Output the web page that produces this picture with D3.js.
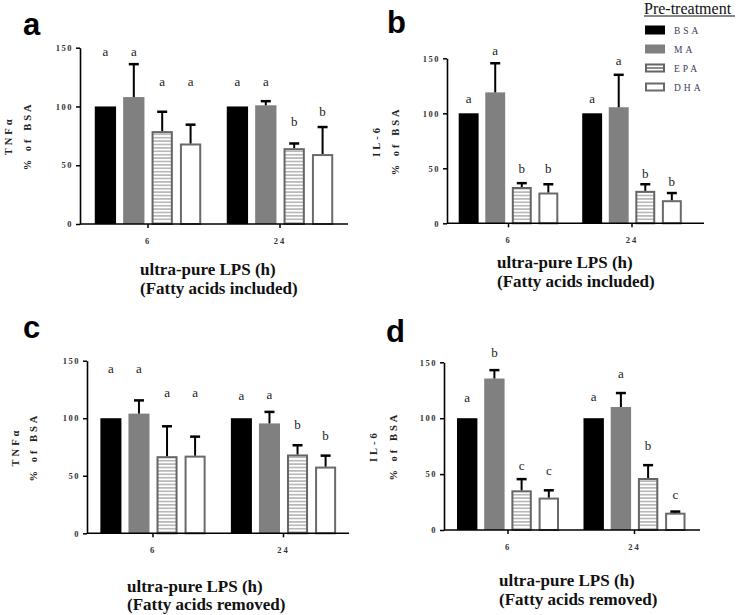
<!DOCTYPE html>
<html><head><meta charset="utf-8">
<script src="https://cdn.jsdelivr.net/npm/d3@7"></script>
<style>body{margin:0;background:#fff} svg{display:block}</style>
</head><body><svg id="chart" width="739" height="615"></svg>
<script>
// ---------- data ----------
const times = ["6", "24"];
const treatments = ["BSA", "MA", "EPA", "DHA"];
const yTicks = [0, 50, 100, 150];
const panelLetters = ["a", "b", "c", "d"];
const cytokines = ["TNFα", "IL-6", "TNFα", "IL-6"];
const yUnit = "% of BSA";
const xTitle = "ultra-pure LPS (h)";
const xSubtitles = ["(Fatty acids included)", "(Fatty acids included)", "(Fatty acids removed)", "(Fatty acids removed)"];
const legendTitle = "Pre-treatment";

// mean (% of BSA): rows = time points, columns = treatments
const meanA = [[100, 108, 79, 68.5], [100, 101, 64.5, 59.5]];
const errA  = [[0, 28, 16.5, 16], [0, 3.5, 4, 23]];
const sigA  = [["a", "a", "a", "a"], ["a", "a", "b", "b"]];
const sigAtA = [[145.5, 145.5, 120, 120], [120, 120, 86, 94.5]];

const meanB = [[100, 119, 33, 28], [100, 105.5, 29.5, 21]];
const errB  = [[0, 26.5, 3.5, 7.5], [0, 29.5, 6, 6.5]];
const sigB  = [["a", "a", "b", "b"], ["a", "a", "b", "b"]];
const sigAtB = [[113, 156, 48.5, 48.5], [113, 147.5, 44.8, 37]];

const meanC = [[100, 104, 67, 67.5], [100, 95.5, 68.5, 58]];
const errC  = [[0, 11.5, 26, 16.5], [0, 10, 8, 9.5]];
const sigC  = [["a", "a", "a", "a"], ["a", "a", "b", "b"]];
const sigAtC = [[142.5, 142.5, 121.6, 121.6], [119.3, 120, 93.5, 84]];

const meanD = [[100, 135.5, 35.5, 29], [100, 110, 46.5, 15.5]];
const errD  = [[0, 7.5, 10, 6.5], [0, 12.5, 11.5, 1]];
const sigD  = [["a", "b", "c", "c"], ["a", "a", "b", "c"]];
const sigAtD = [[117.8, 158, 57.2, 52.2], [118.7, 139.3, 74.5, 30.7]];

const means = [meanA, meanB, meanC, meanD];
const errs = [errA, errB, errC, errD];
const sigs = [sigA, sigB, sigC, sigD];
const sigAts = [sigAtA, sigAtB, sigAtC, sigAtD];

// ---------- layout ----------
const layout = [
  {x0: 80,  yTop: 47.7,  yBot: 224,   band: [82, 346],        axisEnd: 348, letter: [23, 35],   yt: [12, 31],   xt: [140, 275, 294]},
  {x0: 447, yTop: 58.3,  yBot: 223.3, band: [446.75, 693.75], axisEnd: 704, letter: [387, 33],  yt: [380, 399], xt: [497, 268, 287]},
  {x0: 87,  yTop: 360.7, yBot: 533.3, band: [87.75, 348.75],  axisEnd: 349, letter: [23, 338],  yt: [19, 37],   xt: [127, 592, 610]},
  {x0: 444, yTop: 362.3, yBot: 530,   band: [444.75, 697.75], axisEnd: 700, letter: [386, 342], yt: [377, 397], xt: [499, 586, 605]}
];

const SERIF = "'Liberation Serif','Times New Roman',serif";
const SANS = "'Liberation Sans',Arial,sans-serif";

const svg = d3.select("#chart");
const defs = svg.append("defs");
const pat = defs.append("pattern").attr("id", "stripes")
  .attr("patternUnits", "userSpaceOnUse").attr("width", 8).attr("height", 3.4);
pat.append("rect").attr("width", 8).attr("height", 3.4).attr("fill", "#fff");
pat.append("rect").attr("y", 1.2).attr("width", 8).attr("height", 1).attr("fill", "#8a8a8a");

const style = {
  BSA: {fill: "#000", stroke: "none"},
  MA:  {fill: "#808080", stroke: "none"},
  EPA: {fill: "url(#stripes)", stroke: "#656565"},
  DHA: {fill: "#fff", stroke: "#6a6a6a"}
};

layout.forEach((L, p) => {
  const g = svg.append("g");
  const y = d3.scaleLinear().domain([0, 150]).range([L.yBot, L.yTop]);
  const x = d3.scaleBand().domain(times).range(L.band);
  const xi = d3.scaleBand().domain(treatments).range([0, x.bandwidth()])
    .paddingInner(0.25).paddingOuter(0.45);

  // bars
  times.forEach((t, ti) => {
    treatments.forEach((tr, k) => {
      const m = means[p][ti][k];
      const e = errs[p][ti][k];
      const bx = x(t) + xi(tr), bw = xi.bandwidth();
      const cx = bx + bw / 2;
      const s = style[tr];
      const inset = s.stroke === "none" ? 0 : 1;
      g.append("rect")
        .attr("x", bx + inset).attr("y", y(m) + inset)
        .attr("width", bw - 2 * inset).attr("height", y(0) - y(m) - inset)
        .attr("fill", s.fill).attr("stroke", s.stroke).attr("stroke-width", 2);
      if (e > 0) {
        g.append("line").attr("x1", cx).attr("x2", cx)
          .attr("y1", y(m)).attr("y2", y(m + e))
          .attr("stroke", "#000").attr("stroke-width", 2);
        g.append("line").attr("x1", cx - 5).attr("x2", cx + 5)
          .attr("y1", y(m + e)).attr("y2", y(m + e))
          .attr("stroke", "#000").attr("stroke-width", 2.5);
      }
      g.append("text").attr("x", cx).attr("y", y(sigAts[p][ti][k]) + 3.5)
        .attr("text-anchor", "middle")
        .attr("font-family", SERIF).attr("font-size", 13).attr("fill", "#1a1a1a")
        .text(sigs[p][ti][k]);
    });
  });

  // y axis
  const ya = g.append("g").attr("transform", `translate(${L.x0},0)`)
    .call(d3.axisLeft(y).tickValues(yTicks).tickSize(4).tickSizeOuter(0).tickPadding(3));
  ya.select(".domain").attr("stroke", "#000").attr("stroke-width", 1.6);
  ya.selectAll(".tick line").attr("stroke", "#000").attr("stroke-width", 1.5);
  ya.selectAll(".tick text").attr("font-family", SERIF).attr("font-size", 8.5)
    .attr("font-weight", "bold").attr("letter-spacing", "1.5px").attr("fill", "#333");

  // x axis
  g.append("line").attr("x1", L.x0).attr("x2", L.axisEnd)
    .attr("y1", L.yBot).attr("y2", L.yBot)
    .attr("stroke", "#000").attr("stroke-width", 1.6);
  const xa = g.append("g").attr("transform", `translate(0,${L.yBot})`)
    .call(d3.axisBottom(x).tickSize(4).tickSizeOuter(0).tickPadding(10));
  xa.select(".domain").remove();
  xa.selectAll(".tick line").attr("stroke", "#000").attr("stroke-width", 1.5);
  xa.selectAll(".tick text").attr("font-family", SERIF).attr("font-size", 8.5)
    .attr("font-weight", "bold").attr("letter-spacing", "2px").attr("fill", "#333");

  // y title (two lines, rotated)
  const yc = (L.yTop + L.yBot) / 2;
  [cytokines[p], yUnit].forEach((txt, i) => {
    g.append("text").attr("transform", `translate(${L.yt[i]},${yc}) rotate(-90)`)
      .attr("text-anchor", "middle")
      .attr("font-family", SERIF).attr("font-size", 10.5).attr("font-weight", "bold")
      .attr("letter-spacing", "3px").attr("fill", "#222").text(txt);
  });

  // x title
  [xTitle, xSubtitles[p]].forEach((txt, i) => {
    g.append("text").attr("x", L.xt[0]).attr("y", L.xt[1 + i])
      .attr("font-family", SERIF).attr("font-size", 17).attr("font-weight", "bold")
      .attr("fill", "#111").text(txt);
  });

  // panel letter
  g.append("text").attr("x", L.letter[0]).attr("y", L.letter[1])
    .attr("font-family", SANS).attr("font-size", 31).attr("font-weight", "bold")
    .attr("fill", "#000").text(panelLetters[p]);
});

// legend
const lg = svg.append("g");
lg.append("text").attr("x", 644).attr("y", 13.5)
  .attr("font-family", SERIF).attr("font-size", 16).attr("fill", "#111").text(legendTitle);
lg.append("line").attr("x1", 644).attr("x2", 735).attr("y1", 16).attr("y2", 16)
  .attr("stroke", "#111").attr("stroke-width", 1);
const ly = d3.scalePoint().domain(treatments).range([30, 87]);
treatments.forEach(tr => {
  const s = style[tr];
  const inset = s.stroke === "none" ? 0 : 1;
  lg.append("rect").attr("x", 645 + inset).attr("y", ly(tr) - 4.5 + inset)
    .attr("width", 20 - 2 * inset).attr("height", 9 - 2 * inset)
    .attr("fill", tr === "EPA" ? "#fff" : s.fill).attr("stroke", s.stroke).attr("stroke-width", 2);
  if (tr === "EPA") {
    lg.append("line").attr("x1", 646).attr("x2", 664).attr("y1", ly(tr)).attr("y2", ly(tr))
      .attr("stroke", "#656565").attr("stroke-width", 1.5);
  }
  lg.append("text").attr("x", 674).attr("y", ly(tr) + 3.5)
    .attr("font-family", SERIF).attr("font-size", 9.5).attr("letter-spacing", "3px")
    .attr("fill", "#3b3b58").text(tr);
});
</script></body></html>
